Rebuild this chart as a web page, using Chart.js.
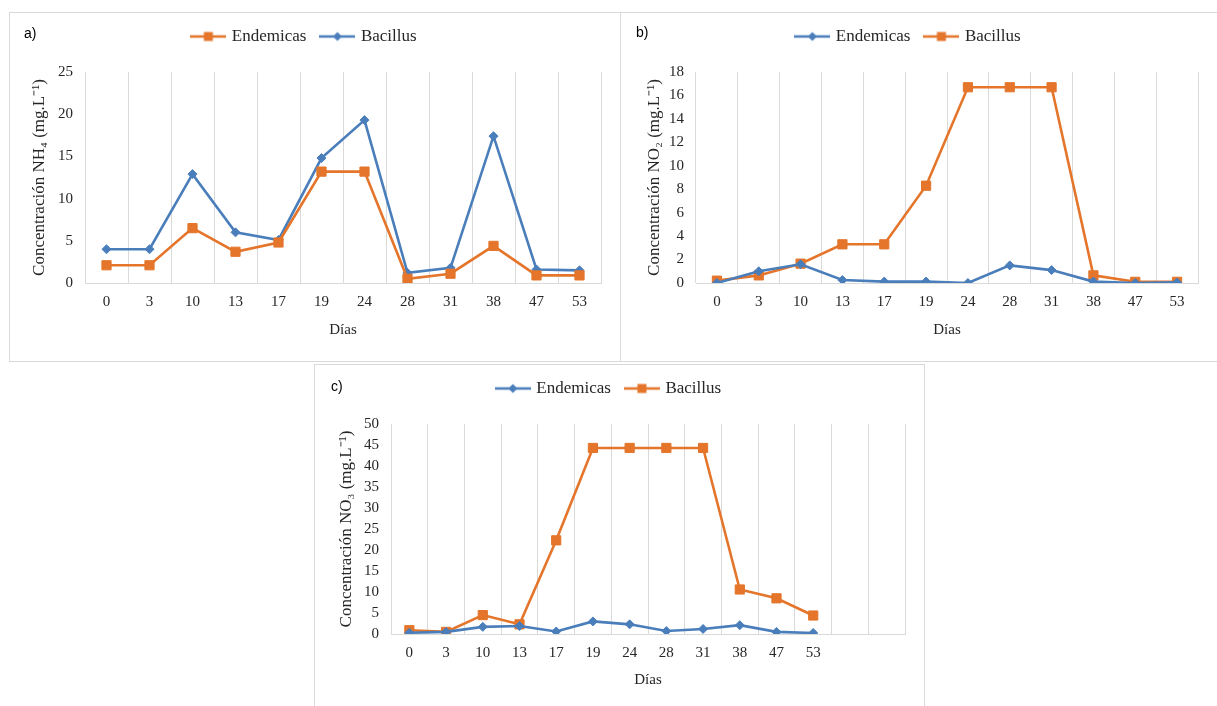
<!DOCTYPE html>
<html>
<head>
<meta charset="utf-8">
<script src="https://cdn.jsdelivr.net/npm/chart.js@4.4.0/dist/chart.umd.min.js"></script>
<style>
body { margin: 0; background: #fff; width: 1217px; height: 706px; position: relative; overflow: hidden; }
.panel { position: absolute; border: 1px solid #d9d9d9; box-sizing: border-box; }
canvas { position: absolute; }
.tag { position: absolute; font-family: 'Liberation Sans', Arial, sans-serif; font-size: 14px; color: #000; }
</style>
</head>
<body>
<div class="panel" style="left:9px;top:12px;width:612px;height:350px"></div>
<div class="panel" style="left:620px;top:12px;width:610px;height:350px"></div>
<div class="panel" style="left:314px;top:364px;width:611px;height:360px"></div>
<canvas id="chartA" width="611" height="349" style="left:9px;top:12px"></canvas>
<canvas id="chartB" width="597" height="349" style="left:620px;top:12px"></canvas>
<canvas id="chartC" width="610" height="342" style="left:314px;top:364px"></canvas>
<div class="tag" style="left:24px;top:25px">a)</div>
<div class="tag" style="left:636px;top:24px">b)</div>
<div class="tag" style="left:331px;top:378px">c)</div>
<script>
// dias de muestreo
const dias = ['0', '3', '10', '13', '17', '19', '24', '28', '31', '38', '47', '53'];
const diasC = dias.concat(['', '']);

// a) NH4
const nh4Endemicas = [2.1, 2.1, 6.5, 3.7, 4.8, 13.2, 13.2, 0.5, 1.1, 4.4, 0.9, 0.9];
const nh4Bacillus = [4.0, 4.0, 12.9, 6.0, 5.1, 14.8, 19.3, 1.2, 1.8, 17.4, 1.6, 1.5];

// b) NO2
const no2Endemicas = [0.0, 1.0, 1.6, 0.25, 0.12, 0.12, 0.0, 1.5, 1.1, 0.12, 0.0, 0.05];
const no2Bacillus = [0.2, 0.65, 1.65, 3.3, 3.3, 8.3, 16.7, 16.7, 16.7, 0.65, 0.1, 0.1];

// c) NO3
const no3Endemicas = [0.3, 0.5, 1.7, 1.9, 0.6, 3.0, 2.3, 0.7, 1.2, 2.1, 0.5, 0.25];
const no3Bacillus = [0.9, 0.5, 4.5, 2.3, 22.3, 44.3, 44.3, 44.3, 44.3, 10.6, 8.5, 4.4];

const NARANJA = '#E4752A';
const AZUL = '#4A7EBB';
const TEXTO = '#262626';
const familia = "'Liberation Serif', 'Times New Roman', serif";
const fuente = { family: familia, size: 15 };
const fuenteTitulo = { family: familia, size: 17 };

function icono(color, forma) {
    const c = document.createElement('canvas');
    c.width = 36; c.height = 12;
    const ctx = c.getContext('2d');
    ctx.strokeStyle = color;
    ctx.lineWidth = 2.5;
    ctx.beginPath(); ctx.moveTo(0, 6); ctx.lineTo(36, 6); ctx.stroke();
    ctx.fillStyle = color;
    if (forma === 'rect') {
        ctx.fillRect(13.5, 1.5, 9, 9);
    } else {
        ctx.beginPath();
        ctx.moveTo(18, 1.5); ctx.lineTo(22.5, 6); ctx.lineTo(18, 10.5); ctx.lineTo(13.5, 6);
        ctx.closePath(); ctx.fill();
    }
    return c;
}

function serie(label, data, color, forma) {
    return {
        label: label,
        data: data,
        borderColor: color,
        backgroundColor: color,
        borderWidth: 2.6,
        pointStyle: forma,
        pointRadius: forma === 'rect' ? 6.5 : 4.5,
        pointBackgroundColor: color,
        pointBorderColor: color,
        pointBorderWidth: 1,
        tension: 0
    };
}

function margenLeyenda(alto) {
    return {
        id: 'margenLeyenda',
        afterInit(chart) {
            const fit = chart.legend.fit;
            chart.legend.fit = function () {
                fit.call(this);
                this.height = alto;
            };
        }
    };
}

function grafico(id, etiquetas, series, iconos, yMax, yPaso, tituloY, op) {
    new Chart(document.getElementById(id), {
        type: 'line',
        data: { labels: etiquetas, datasets: series },
        options: {
            responsive: false,
            animation: false,
            devicePixelRatio: 1,
            layout: { padding: { left: 0, right: 19, top: 0, bottom: 0 } },
            plugins: {
                legend: {
                    position: 'top',
                    labels: {
                        usePointStyle: true,
                        pointStyleWidth: 30,
                        padding: 16,
                        color: TEXTO,
                        font: { family: familia, size: 17 },
                        generateLabels(chart) {
                            return Chart.defaults.plugins.legend.labels.generateLabels(chart).map((it, i) => {
                                it.pointStyle = iconos[i];
                                return it;
                            });
                        }
                    }
                },
                tooltip: { enabled: false }
            },
            scales: {
                x: {
                    offset: true,
                    grid: { offset: true, color: '#d9d9d9', drawTicks: false },
                    border: { color: '#d9d9d9' },
                    ticks: { color: TEXTO, font: fuente, padding: 10, maxRotation: 0, autoSkip: false },
                    title: { display: true, text: 'Días', color: TEXTO, font: fuente, padding: { top: 0, bottom: op.tituloX } },
                    afterFit(s) { s.height = op.altoX; }
                },
                y: {
                    min: 0,
                    max: yMax,
                    grid: { display: false, drawTicks: false },
                    border: { display: false },
                    ticks: { stepSize: yPaso, color: TEXTO, font: fuente, padding: 12 },
                    title: { display: true, text: tituloY, color: TEXTO, font: fuenteTitulo, padding: { top: op.tituloY, bottom: 0 } },
                    afterFit(s) { s.width = op.anchoY; }
                }
            }
        },
        plugins: [margenLeyenda(60)]
    });
}

grafico('chartA', dias,
    [serie('Endemicas', nh4Endemicas, NARANJA, 'rect'), serie('Bacillus', nh4Bacillus, AZUL, 'rectRot')],
    [icono(NARANJA, 'rect'), icono(AZUL, 'rectRot')],
    25, 5, 'Concentración NH₄ (mg.L⁻¹)',
    { anchoY: 76, altoX: 78, tituloX: 22, tituloY: 20 });

grafico('chartB', dias,
    [serie('Endemicas', no2Endemicas, AZUL, 'rectRot'), serie('Bacillus', no2Bacillus, NARANJA, 'rect')],
    [icono(AZUL, 'rectRot'), icono(NARANJA, 'rect')],
    18, 2, 'Concentración NO₂ (mg.L⁻¹)',
    { anchoY: 76, altoX: 78, tituloX: 22, tituloY: 24 });

grafico('chartC', diasC,
    [serie('Endemicas', no3Endemicas, AZUL, 'rectRot'), serie('Bacillus', no3Bacillus, NARANJA, 'rect')],
    [icono(AZUL, 'rectRot'), icono(NARANJA, 'rect')],
    50, 5, 'Concentración NO₃ (mg.L⁻¹)',
    { anchoY: 77, altoX: 72, tituloX: 17, tituloY: 22 });
</script>
</body>
</html>
